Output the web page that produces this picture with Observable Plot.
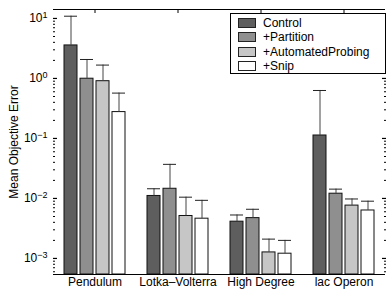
<!DOCTYPE html>
<html>
<head>
<meta charset="utf-8">
<script src="https://cdn.jsdelivr.net/npm/d3@7"></script>
<script src="https://cdn.jsdelivr.net/npm/@observablehq/plot@0.6"></script>
<style>
  html, body { margin: 0; padding: 0; background: #fff; }
  #chart { position: relative; width: 388px; height: 293px; font-family: "Liberation Sans", Arial, Helvetica, sans-serif; }
  #legend { position: absolute; left: 230px; top: 13px; width: 156px; height: 61px; box-sizing: border-box;
            border: 1.3px solid #000; background: #fff; padding-top: 2px; }
  #legend .row { display: flex; align-items: center; height: 14.3px; font-size: 12px; color: #000; }
  #legend .sw { width: 18px; height: 10px; border: 1px solid #222; margin-left: 7px; margin-right: 7px; box-sizing: border-box; }
</style>
</head>
<body>
<div id="chart"><div id="legend"></div></div>
<script>
// ---- data ----
const categories = ["Pendulum", "Lotka\u2013Volterra", "High Degree", "lac Operon"];
const series = ["Control", "+Partition", "+AutomatedProbing", "+Snip"];
const colors = ["#5e5e5e", "#8f8f8f", "#c6c6c6", "#ffffff"];

const controlMean   = [3.55, 0.0110, 0.0041, 0.112];
const partitionMean = [0.99, 0.0145, 0.0047, 0.0120];
const probingMean   = [0.90, 0.0051, 0.00126, 0.0076];
const snipMean      = [0.275, 0.0046, 0.0012, 0.0063];

const controlErr   = [10.9, 0.0145, 0.0053, 0.63];
const partitionErr = [2.07, 0.037, 0.0066, 0.0143];
const probingErr   = [1.67, 0.0105, 0.0021, 0.0098];
const snipErr      = [0.57, 0.0093, 0.0020, 0.0090];

const yTicks = [1e-3, 1e-2, 1e-1, 1, 10];
const yLabel = "Mean Objective Error";
const yDomain = [5.4e-4, 14.1];

// ---- build table ----
const means = [controlMean, partitionMean, probingMean, snipMean];
const errs = [controlErr, partitionErr, probingErr, snipErr];
const rows = [];
categories.forEach((c, i) => series.forEach((s, j) => rows.push({category: c, series: s, mean: means[j][i], err: errs[j][i]})));

const minorTicks = [];
for (let e = -4; e <= 1; e++) for (let m = 2; m <= 9; m++) {
  const v = m * Math.pow(10, e);
  if (v >= yDomain[0] && v <= yDomain[1]) minorTicks.push(v);
}

const blank = () => "";
const chart = Plot.plot({
  width: 388,
  height: 293,
  marginLeft: 52,
  marginRight: 3,
  marginTop: 9,
  marginBottom: 19,
  style: {fontFamily: '"Liberation Sans", Arial, Helvetica, sans-serif', fontSize: "12px", background: "#fff", color: "#000"},
  fx: {domain: categories, padding: 0},
  x: {domain: series, paddingInner: 0.16, paddingOuter: 0.57, axis: null},
  y: {type: "log", domain: yDomain, axis: null},
  color: {domain: series, range: colors},
  marks: [
    Plot.barY(rows, {fx: "category", x: "series", y1: yDomain[0], y2: "mean", fill: "series", stroke: "#111", strokeWidth: 1}),
    Plot.ruleX(rows, {fx: "category", x: "series", y1: "mean", y2: "err", stroke: "#444", strokeWidth: 1}),
    Plot.tickY(rows, {fx: "category", x: "series", y: "err", stroke: "#222", strokeWidth: 1}),
    Plot.ruleY([yDomain[0], yDomain[1]], {stroke: "#000", strokeWidth: 1.2}),
    Plot.axisFx({anchor: "bottom", tickSize: 0, tickPadding: 3, label: null, fontSize: 12}),
    Plot.axisFx({anchor: "top", tickSize: -3, tickFormat: blank, label: null}),
    Plot.axisY({anchor: "left", ticks: yTicks, tickSize: -4, tickPadding: 10, line: true, strokeWidth: 1.2,
                tickFormat: d => "10^" + Math.round(Math.log10(d)), label: yLabel, labelAnchor: "center", labelOffset: 44, labelArrow: "none", fontSize: 12}),
    Plot.axisY({anchor: "left", ticks: minorTicks, tickSize: -2, tickFormat: blank, label: null}),
    Plot.axisY({anchor: "right", ticks: yTicks, tickSize: -4, tickFormat: blank, line: true, strokeWidth: 1.2, label: null}),
    Plot.axisY({anchor: "right", ticks: minorTicks, tickSize: -2, tickFormat: blank, label: null})
  ]
});
document.getElementById("chart").prepend(chart);

// superscript exponents on y tick labels
chart.querySelectorAll('g[aria-label="y-axis tick label"] text').forEach(t => {
  const m = /^10\^(-?\d+)$/.exec(t.textContent);
  if (!m) return;
  t.textContent = "10";
  const ts = document.createElementNS("http://www.w3.org/2000/svg", "tspan");
  ts.setAttribute("dy", "-0.5em");
  ts.setAttribute("font-size", "9");
  ts.textContent = m[1].replace("-", "\u2212");
  t.appendChild(ts);
});

// legend
const legend = document.getElementById("legend");
series.forEach((s, j) => {
  const row = document.createElement("div");
  row.className = "row";
  const sw = document.createElement("div");
  sw.className = "sw";
  sw.style.background = colors[j];
  const lab = document.createElement("span");
  lab.textContent = s;
  row.appendChild(sw);
  row.appendChild(lab);
  legend.appendChild(row);
});
</script>
</body>
</html>
